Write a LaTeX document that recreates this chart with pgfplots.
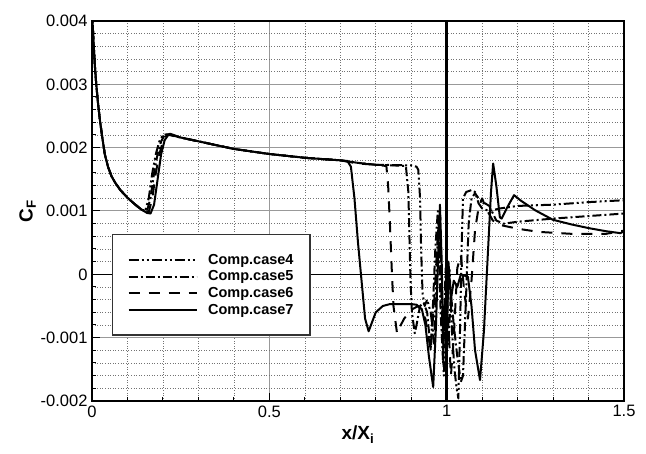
\documentclass[border=0pt]{standalone}
\usepackage{fontspec}
\setmainfont{Liberation Sans}
\usepackage{pgfplots}
\usepackage{pgfplotstable}
\pgfplotsset{compat=1.18}

% skin-friction coefficient along the surface, four computational cases
\pgfplotstableread{
x y
0.000 0.0042
0.004 0.0037
0.008 0.0033
0.012 0.0030
0.017 0.0027
0.022 0.00245
0.028 0.0022
0.036 0.0019
0.045 0.0017
0.055 0.00155
0.065 0.00145
0.080 0.00133
0.100 0.00121
0.120 0.00111
0.140 0.00102
0.150 0.00100
0.160 0.00120
0.170 0.00160
0.180 0.00190
0.190 0.00210
0.200 0.00220
0.210 0.00221
0.250 0.00216
0.300 0.00210
0.350 0.00204
0.400 0.00198
0.450 0.00194
0.500 0.00190
0.550 0.00187
0.600 0.00184
0.650 0.00182
0.700 0.00180
0.750 0.00176
0.800 0.00173
0.900 0.00172
0.915 0.00170
0.920 0.00165
0.925 0.00120
0.928 0.00040
0.932 -0.00030
0.938 -0.00050
0.945 -0.00040
0.955 -0.00060
0.965 -0.00110
0.972 0.00020
0.978 0.00090
0.985 -0.00030
0.992 -0.00160
1.000 -0.00060
1.008 0.00010
1.015 -0.00090
1.022 -0.00150
1.028 -0.00180
1.033 -0.00196
1.038 -0.00080
1.042 0.00040
1.046 0.00120
1.055 0.00130
1.070 0.00133
1.080 0.00130
1.090 0.00112
1.100 0.00104
1.120 0.00100
1.150 0.00104
1.200 0.00108
1.300 0.00110
1.400 0.00114
1.500 0.00117
}\caseFour

\pgfplotstableread{
x y
0.000 0.0042
0.004 0.0037
0.008 0.0033
0.012 0.0030
0.017 0.0027
0.022 0.00245
0.028 0.0022
0.036 0.0019
0.045 0.0017
0.055 0.00155
0.065 0.00145
0.080 0.00133
0.100 0.00121
0.120 0.00111
0.140 0.00102
0.155 0.00100
0.165 0.00120
0.175 0.00160
0.185 0.00190
0.195 0.00210
0.205 0.00220
0.215 0.00221
0.250 0.00216
0.300 0.00210
0.350 0.00204
0.400 0.00198
0.450 0.00194
0.500 0.00190
0.550 0.00187
0.600 0.00184
0.650 0.00182
0.700 0.00180
0.750 0.00176
0.800 0.00173
0.850 0.00172
0.885 0.00171
0.892 0.00130
0.895 0.00060
0.898 -0.00010
0.902 -0.00060
0.910 -0.00093
0.915 -0.00080
0.925 -0.00050
0.935 -0.00045
0.945 -0.00060
0.955 -0.00120
0.962 -0.00040
0.968 0.00040
0.975 0.00100
0.983 -0.00060
0.990 -0.00140
0.997 0.00010
1.005 -0.00110
1.012 -0.00030
1.020 -0.00080
1.030 -0.00130
1.040 -0.00170
1.046 -0.00160
1.055 -0.00030
1.062 0.00080
1.070 0.00120
1.080 0.00128
1.090 0.00120
1.100 0.00115
1.120 0.00108
1.140 0.00085
1.160 0.00080
1.200 0.00083
1.300 0.00088
1.400 0.00092
1.500 0.00096
}\caseFive

\pgfplotstableread{
x y
0.000 0.0042
0.004 0.0037
0.008 0.0033
0.012 0.0030
0.017 0.0027
0.022 0.00245
0.028 0.0022
0.036 0.0019
0.045 0.0017
0.055 0.00155
0.065 0.00145
0.080 0.00133
0.100 0.00121
0.120 0.00111
0.140 0.00102
0.160 0.00098
0.170 0.00120
0.180 0.00160
0.190 0.00190
0.200 0.00210
0.212 0.00220
0.220 0.00221
0.250 0.00216
0.300 0.00210
0.350 0.00204
0.400 0.00198
0.450 0.00194
0.500 0.00190
0.550 0.00187
0.600 0.00184
0.650 0.00182
0.700 0.00180
0.750 0.00175
0.800 0.00173
0.830 0.00171
0.835 0.00140
0.840 0.00080
0.845 0.00010
0.850 -0.00050
0.860 -0.00093
0.868 -0.00083
0.880 -0.00070
0.900 -0.00056
0.920 -0.00050
0.940 -0.00070
0.955 -0.00120
0.965 -0.00040
0.975 0.00060
0.982 0.00090
0.990 -0.00120
0.998 0.00000
1.005 -0.00080
1.012 -0.00160
1.020 -0.00100
1.030 0.00010
1.040 0.00030
1.050 -0.00030
1.060 -0.00070
1.070 -0.00010
1.080 0.00070
1.090 0.00105
1.100 0.00120
1.110 0.00105
1.130 0.00085
1.150 0.00078
1.200 0.00072
1.260 0.00067
1.350 0.00064
1.450 0.00064
1.500 0.00069
}\caseSix

\pgfplotstableread{
x y
0.000 0.0042
0.004 0.0037
0.008 0.0033
0.012 0.0030
0.017 0.0027
0.022 0.00245
0.028 0.0022
0.036 0.0019
0.045 0.0017
0.055 0.00155
0.065 0.00145
0.080 0.00133
0.100 0.00121
0.120 0.00111
0.140 0.00102
0.155 0.00097
0.165 0.00096
0.175 0.00110
0.185 0.00150
0.195 0.00190
0.205 0.00212
0.215 0.00220
0.220 0.00222
0.250 0.00216
0.300 0.00210
0.350 0.00204
0.400 0.00198
0.450 0.00194
0.500 0.00190
0.550 0.00187
0.600 0.00184
0.650 0.00182
0.700 0.00180
0.720 0.00179
0.730 0.00170
0.740 0.00120
0.750 0.00050
0.760 -0.00010
0.770 -0.00070
0.780 -0.00090
0.790 -0.00075
0.800 -0.00060
0.820 -0.00050
0.840 -0.00047
0.900 -0.00047
0.915 -0.00048
0.930 -0.00055
0.940 -0.00080
0.950 -0.00130
0.962 -0.00178
0.970 -0.00080
0.976 0.00030
0.981 0.00110
0.986 0.00020
0.990 -0.00100
0.995 -0.00050
1.000 -0.00130
1.005 0.00020
1.012 -0.00040
1.020 -0.00010
1.030 -0.00020
1.040 0.00000
1.060 -0.00004
1.070 -0.00050
1.080 -0.00120
1.094 -0.00167
1.105 -0.00090
1.115 0.00020
1.125 0.00130
1.131 0.00175
1.140 0.00140
1.150 0.00090
1.155 0.00088
1.170 0.00105
1.190 0.00125
1.210 0.00116
1.250 0.00101
1.300 0.00086
1.350 0.00079
1.400 0.00073
1.450 0.00068
1.490 0.00065
1.500 0.00068
}\caseSeven

\begin{document}
\begin{tikzpicture}[x=1pt,y=1pt]
\begin{axis}[
  at={(92pt,53pt)}, anchor=south west,
  scale only axis, width=532pt, height=380pt,
  xmin=0, xmax=1.5, ymin=-0.002, ymax=0.004,
  scaled x ticks=false, scaled y ticks=false,
  xtick={0,0.5,1,1.5}, xticklabels={0,0.5,1,1.5},
  ytick={-0.002,-0.001,0,0.001,0.002,0.003,0.004},
  yticklabels={-0.002,-0.001,0,0.001,0.002,0.003,0.004},
  minor x tick num=4, minor y tick num=4,
  xtick pos=bottom, ytick pos=left,
  major tick length=8pt, minor tick length=4pt,
  tick style={black, line width=1pt},
  axis line style={line width=1.6pt},
  grid=both,
  major grid style={gray!80, line width=1pt},
  minor grid style={gray!90!black, line width=0.6pt, dotted},
  /pgf/number format/assume math mode=true,
  tick label style={font=\fontsize{16.5}{19}\selectfont},
  xticklabel style={yshift=-1pt},
  yticklabel style={xshift=-1pt},
  xlabel={\textbf{x/X\textsubscript{i}}},
  ylabel={\textbf{C\textsubscript{F}}},
  label style={font=\fontsize{19}{22}\selectfont},
  xlabel style={yshift=-2pt},
  ylabel style={yshift=-2pt},
  legend cell align=left,
  legend style={at={(0.0376,0.4395)}, anchor=north west,
    draw=black!80, line width=1.2pt,
    font=\fontsize{14.5}{17}\selectfont\bfseries,
    inner xsep=15pt, inner ysep=18pt, row sep=2pt,
    nodes={inner sep=1.5pt},
    /tikz/column 1/.style={column sep=9pt}},
  legend image code/.code={\draw[#1, line width=2pt] (0pt,0pt) -- (68pt,0pt);},
  every axis plot/.append style={black, line width=2pt, line join=round},
]
\draw[black, line width=1pt] (axis cs:0,0) -- (axis cs:1.5,0);
\draw[black, line width=2.6pt] (axis cs:1,-0.002) -- (axis cs:1,0.004);
\addplot[dash pattern=on 10pt off 3pt on 2pt off 3pt on 2pt off 3pt] table {\caseFour};
\addlegendentry{Comp.case4}
\addplot[dash pattern=on 9pt off 3pt on 2pt off 3pt] table {\caseFive};
\addlegendentry{Comp.case5}
\addplot[dash pattern=on 11pt off 9pt] table {\caseSix};
\addlegendentry{Comp.case6}
\addplot[solid] table {\caseSeven};
\addlegendentry{Comp.case7}
\end{axis}
\pgfresetboundingbox
\path[use as bounding box] (0,0) rectangle (646,454);
\end{tikzpicture}
\end{document}
